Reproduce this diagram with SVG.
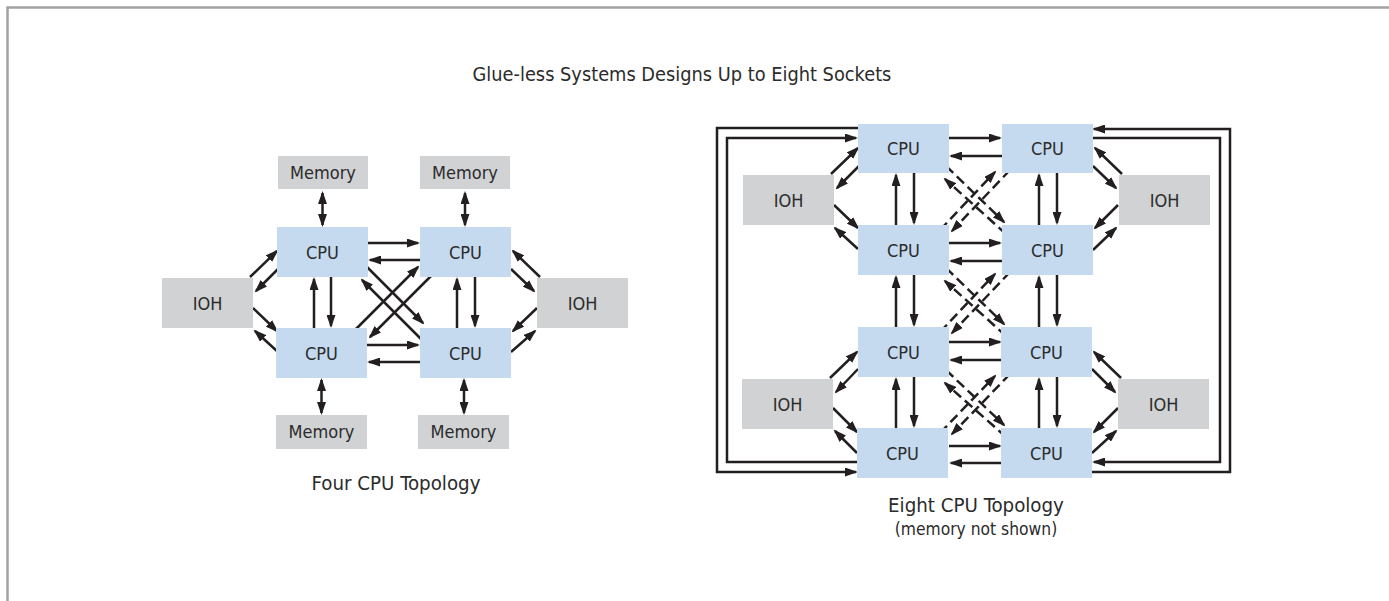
<svg xmlns="http://www.w3.org/2000/svg" width="1389" height="601" viewBox="0 0 1389 601">
<style>
.bg{fill:#ffffff}
.frame{stroke:#a3a3a3;stroke-width:2.5;fill:none}
.cpu{fill:#c5daef}
.gray{fill:#d1d2d4}
.lbl{font-family:"DejaVu Sans Condensed","Liberation Sans",sans-serif;font-size:18px;fill:#2b2b2b;text-anchor:middle}
.ttl{font-family:"DejaVu Sans Condensed","Liberation Sans",sans-serif;font-size:19.8px;fill:#2b2b2b;text-anchor:middle}
.cap{font-family:"DejaVu Sans Condensed","Liberation Sans",sans-serif;font-size:20.3px;fill:#2b2b2b;text-anchor:middle}
.sub{font-family:"DejaVu Sans Condensed","Liberation Sans",sans-serif;font-size:17.3px;fill:#2b2b2b;text-anchor:middle}
.ln{stroke:#231f20;stroke-width:2.5;fill:none}
.a{marker-end:url(#ah)}
.aa{marker-start:url(#ah);marker-end:url(#ah)}
.d{stroke-dasharray:10 5}
</style>
<defs>
<marker id="ah" viewBox="0 0 13 9" refX="11" refY="4.5" markerWidth="13" markerHeight="9" markerUnits="userSpaceOnUse" orient="auto-start-reverse">
<path d="M0,0 L13,4.5 L0,9 z" fill="#231f20"/>
</marker>
</defs>
<rect class="bg" x="0" y="0" width="1389" height="601"/>
<path class="frame" d="M7.5,601 V7.5 H1389"/>
<text class="ttl" x="682" y="81">Glue-less Systems Designs Up to Eight Sockets</text>

<g id="connectors">
<!-- four CPU: memory links -->
<line class="ln aa" x1="322.5" y1="193" x2="322.5" y2="225"/>
<line class="ln aa" x1="465" y1="193" x2="465" y2="225"/>
<line class="ln aa" x1="321.5" y1="380" x2="321.5" y2="413"/>
<line class="ln aa" x1="464" y1="380" x2="464" y2="413"/>
<!-- four CPU: horizontal -->
<line class="ln a" x1="368" y1="243" x2="418" y2="243"/>
<line class="ln a" x1="420" y1="260" x2="370" y2="260"/>
<line class="ln a" x1="367" y1="345" x2="418" y2="345"/>
<line class="ln a" x1="420" y1="362" x2="369" y2="362"/>
<!-- four CPU: vertical -->
<line class="ln a" x1="314" y1="328" x2="314" y2="279"/>
<line class="ln a" x1="331" y1="277" x2="331" y2="326"/>
<line class="ln a" x1="457" y1="328" x2="457" y2="279"/>
<line class="ln a" x1="475" y1="277" x2="475" y2="326"/>
<!-- four CPU: diagonals -->
<line class="ln a" x1="366" y1="266" x2="423" y2="323"/>
<line class="ln a" x1="422" y1="340" x2="362" y2="280"/>
<line class="ln a" x1="432" y1="275" x2="370" y2="337"/>
<line class="ln a" x1="355" y1="330" x2="418" y2="267"/>
<!-- four CPU: IOH links -->
<line class="ln a" x1="250" y1="277" x2="277" y2="251"/>
<line class="ln a" x1="278" y1="269" x2="256" y2="291"/>
<line class="ln a" x1="253" y1="308" x2="277" y2="331"/>
<line class="ln a" x1="278" y1="352" x2="255" y2="331"/>
<line class="ln a" x1="540" y1="277" x2="513" y2="251"/>
<line class="ln a" x1="511" y1="269" x2="534" y2="291"/>
<line class="ln a" x1="537" y1="308" x2="513" y2="331"/>
<line class="ln a" x1="511" y1="352" x2="535" y2="331"/>

<!-- eight CPU: outer loops -->
<path class="ln a" d="M860,462 H727 V138 H856"/>
<path class="ln a" d="M860,128 H717 V472 H856"/>
<path class="ln a" d="M1091,138 H1220 V462 H1094"/>
<path class="ln a" d="M1091,472 H1230 V129 H1094"/>
<!-- eight CPU: horizontal -->
<line class="ln a" x1="949" y1="138" x2="1000" y2="138"/>
<line class="ln a" x1="1002" y1="156" x2="951" y2="156"/>
<line class="ln a" x1="949" y1="243" x2="1000" y2="243"/>
<line class="ln a" x1="1002" y1="261" x2="951" y2="261"/>
<line class="ln a" x1="949" y1="342" x2="1000" y2="342"/>
<line class="ln a" x1="1002" y1="360" x2="951" y2="360"/>
<line class="ln a" x1="949" y1="446" x2="1000" y2="446"/>
<line class="ln a" x1="1002" y1="463" x2="951" y2="463"/>
<!-- eight CPU: vertical -->
<line class="ln a" x1="896" y1="225" x2="896" y2="175"/>
<line class="ln a" x1="914" y1="173" x2="914" y2="223"/>
<line class="ln a" x1="1039" y1="225" x2="1039" y2="175"/>
<line class="ln a" x1="1057" y1="173" x2="1057" y2="223"/>
<line class="ln a" x1="896" y1="327" x2="896" y2="277"/>
<line class="ln a" x1="914" y1="275" x2="914" y2="325"/>
<line class="ln a" x1="1039" y1="327" x2="1039" y2="277"/>
<line class="ln a" x1="1057" y1="275" x2="1057" y2="325"/>
<line class="ln a" x1="896" y1="428" x2="896" y2="379"/>
<line class="ln a" x1="914" y1="377" x2="914" y2="426"/>
<line class="ln a" x1="1039" y1="428" x2="1039" y2="379"/>
<line class="ln a" x1="1057" y1="377" x2="1057" y2="426"/>
<!-- eight CPU: dashed diagonals gap 1 -->
<line class="ln a d" x1="946" y1="166" x2="1004" y2="222"/>
<line class="ln a d" x1="1006" y1="234" x2="945" y2="179"/>
<line class="ln a d" x1="940" y1="230" x2="995" y2="172"/>
<line class="ln a d" x1="1010" y1="170" x2="952" y2="231"/>
<!-- gap 2 -->
<line class="ln a d" x1="946" y1="268" x2="1004" y2="324"/>
<line class="ln a d" x1="1006" y1="336" x2="945" y2="281"/>
<line class="ln a d" x1="940" y1="332" x2="995" y2="274"/>
<line class="ln a d" x1="1010" y1="272" x2="952" y2="333"/>
<!-- gap 3 -->
<line class="ln a d" x1="946" y1="370" x2="1004" y2="425"/>
<line class="ln a d" x1="1006" y1="437" x2="945" y2="383"/>
<line class="ln a d" x1="940" y1="433" x2="995" y2="376"/>
<line class="ln a d" x1="1010" y1="374" x2="952" y2="434"/>
<!-- eight CPU: IOH links -->
<line class="ln a" x1="831" y1="174" x2="858" y2="148"/>
<line class="ln a" x1="859" y1="166" x2="837" y2="188"/>
<line class="ln a" x1="834" y1="205" x2="858" y2="228"/>
<line class="ln a" x1="858" y1="249" x2="835" y2="228"/>
<line class="ln a" x1="1122" y1="174" x2="1095" y2="148"/>
<line class="ln a" x1="1093" y1="166" x2="1116" y2="188"/>
<line class="ln a" x1="1118" y1="205" x2="1095" y2="228"/>
<line class="ln a" x1="1093" y1="250" x2="1116" y2="228"/>
<line class="ln a" x1="830" y1="378" x2="857" y2="352"/>
<line class="ln a" x1="858" y1="369" x2="836" y2="392"/>
<line class="ln a" x1="833" y1="408" x2="857" y2="432"/>
<line class="ln a" x1="857" y1="453" x2="835" y2="431"/>
<line class="ln a" x1="1121" y1="378" x2="1094" y2="352"/>
<line class="ln a" x1="1092" y1="369" x2="1115" y2="392"/>
<line class="ln a" x1="1118" y1="408" x2="1094" y2="432"/>
<line class="ln a" x1="1092" y1="453" x2="1116" y2="431"/>
</g>

<!-- Four CPU topology nodes -->
<g id="mem-tl"><rect class="gray" x="278" y="156" width="90" height="33"/><text class="lbl" x="323" y="179">Memory</text></g>
<g id="mem-tr"><rect class="gray" x="420" y="156" width="90" height="33"/><text class="lbl" x="465" y="179">Memory</text></g>
<g id="mem-bl"><rect class="gray" x="276" y="415" width="91" height="34"/><text class="lbl" x="321.5" y="438">Memory</text></g>
<g id="mem-br"><rect class="gray" x="418" y="415" width="91" height="34"/><text class="lbl" x="463.5" y="438">Memory</text></g>
<g id="cpu4-tl"><rect class="cpu" x="277" y="227" width="91" height="50"/><text class="lbl" x="322.5" y="258.5">CPU</text></g>
<g id="cpu4-tr"><rect class="cpu" x="420" y="227" width="91" height="50"/><text class="lbl" x="465.5" y="258.5">CPU</text></g>
<g id="cpu4-bl"><rect class="cpu" x="276" y="328" width="91" height="50"/><text class="lbl" x="321.5" y="359.5">CPU</text></g>
<g id="cpu4-br"><rect class="cpu" x="420" y="328" width="91" height="50"/><text class="lbl" x="465.5" y="359.5">CPU</text></g>
<g id="ioh4-l"><rect class="gray" x="162" y="278" width="91" height="50"/><text class="lbl" x="207.5" y="309.5">IOH</text></g>
<g id="ioh4-r"><rect class="gray" x="537" y="278" width="91" height="50"/><text class="lbl" x="582.5" y="309.5">IOH</text></g>
<text class="cap" x="396" y="490">Four CPU Topology</text>

<!-- Eight CPU topology nodes -->
<g id="cpu8-1l"><rect class="cpu" x="858" y="124" width="91" height="49"/><text class="lbl" x="903.5" y="155">CPU</text></g>
<g id="cpu8-1r"><rect class="cpu" x="1002" y="124" width="91" height="49"/><text class="lbl" x="1047.5" y="155">CPU</text></g>
<g id="cpu8-2l"><rect class="cpu" x="858" y="225" width="91" height="50"/><text class="lbl" x="903.5" y="256.5">CPU</text></g>
<g id="cpu8-2r"><rect class="cpu" x="1002" y="225" width="91" height="50"/><text class="lbl" x="1047.5" y="256.5">CPU</text></g>
<g id="cpu8-3l"><rect class="cpu" x="858" y="327" width="91" height="50"/><text class="lbl" x="903.5" y="358.5">CPU</text></g>
<g id="cpu8-3r"><rect class="cpu" x="1001" y="327" width="91" height="50"/><text class="lbl" x="1046.5" y="358.5">CPU</text></g>
<g id="cpu8-4l"><rect class="cpu" x="857" y="428" width="91" height="50"/><text class="lbl" x="902.5" y="459.5">CPU</text></g>
<g id="cpu8-4r"><rect class="cpu" x="1001" y="428" width="91" height="50"/><text class="lbl" x="1046.5" y="459.5">CPU</text></g>
<g id="ioh8-tl"><rect class="gray" x="743" y="175" width="91" height="50"/><text class="lbl" x="788.5" y="206.5">IOH</text></g>
<g id="ioh8-tr"><rect class="gray" x="1119" y="175" width="91" height="50"/><text class="lbl" x="1164.5" y="206.5">IOH</text></g>
<g id="ioh8-bl"><rect class="gray" x="742" y="379" width="91" height="50"/><text class="lbl" x="787.5" y="410.5">IOH</text></g>
<g id="ioh8-br"><rect class="gray" x="1118" y="379" width="91" height="50"/><text class="lbl" x="1163.5" y="410.5">IOH</text></g>
<text class="cap" x="976" y="512">Eight CPU Topology</text>
<text class="sub" x="976" y="535">(memory not shown)</text>
</svg>
